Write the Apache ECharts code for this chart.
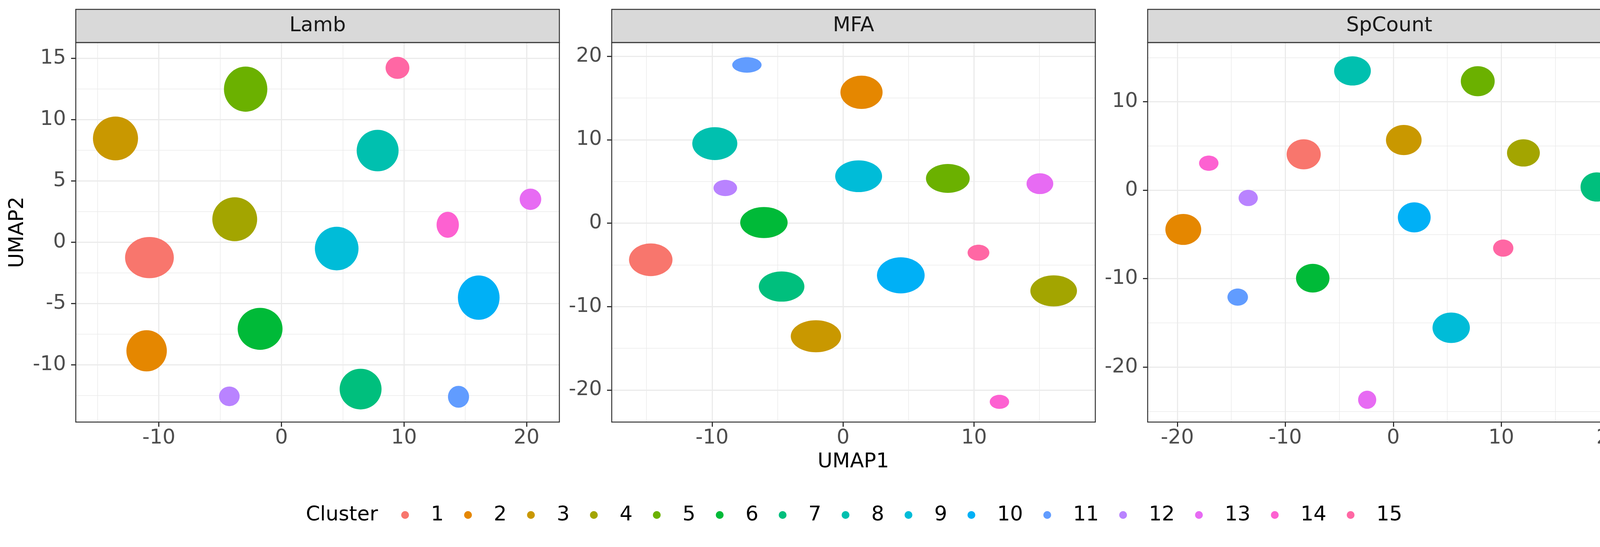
<!DOCTYPE html>
<html><head><meta charset="utf-8">
<script src="https://cdn.jsdelivr.net/npm/echarts@6/dist/echarts.min.js"></script>
<style>html,body{margin:0;padding:0;background:#fff}#c{width:4200px;height:1401px}</style>
</head><body><div id="c"></div>
<script>
// ---- data ----
const clusters = ['1','2','3','4','5','6','7','8','9','10','11','12','13','14','15'];
const clusterColors = ['#F8766D','#E58700','#C99800','#A3A500','#6BB100','#00BA38','#00BF7D','#00C0AF','#00BCD8','#00B0F6','#619CFF','#B983FF','#E76BF3','#FD61D1','#FF67A4'];
const panels = ['Lamb','MFA','SpCount'];

// per cluster 1..15: centre UMAP1, centre UMAP2, visible half-width, visible half-height
const lambX  = [-10.77,-11.00,-13.54,-3.81,-2.92,-1.74, 6.46, 7.85, 4.51,16.10,14.45,-4.25,20.32,13.57, 9.47];
const lambY  = [ -1.25, -8.85,  8.47, 1.88,12.49,-7.06,-11.97,7.48,-0.51,-4.51,-12.60,-12.56,3.51, 1.43,14.23];
const lambHW = [1.99,1.65,1.84,1.83,1.77,1.83,1.71,1.71,1.78,1.70,0.86,0.84,0.88,0.91,0.97];
const lambHH = [1.68,1.68,1.79,1.79,1.84,1.71,1.66,1.69,1.78,1.81,0.89,0.80,0.87,1.06,0.90];

const mfaX  = [-14.68, 1.41, -2.07,16.08, 8.00,-6.04,-4.69,-9.79, 1.19, 4.41,-7.34,-8.99,15.03, 11.94,10.34];
const mfaY  = [ -4.39,15.68,-13.56,-8.12, 5.36, 0.07,-7.60, 9.53, 5.62,-6.26,18.96, 4.21, 4.73,-21.42,-3.54];
const mfaHW = [1.66,1.61,1.92,1.78,1.67,1.81,1.74,1.72,1.79,1.82,1.12,0.90,1.02,0.74,0.83];
const mfaHH = [1.96,1.99,1.92,1.86,1.73,1.86,1.81,1.97,1.90,2.16,0.93,0.97,1.25,0.84,0.95];

const spX  = [-8.30,-19.45,0.97,12.05, 7.82,-7.46,18.84,-3.78,  5.36, 1.94,-14.41,-13.44, -2.42,-17.09,10.18];
const spY  = [ 4.05, -4.44,5.67, 4.21,12.32,-9.95, 0.36,13.48,-15.56,-3.08,-12.09, -0.88,-23.70,  3.05,-6.55];
const spHW = [1.58,1.66,1.65,1.52,1.57,1.55,1.50,1.70,1.73,1.52,0.95,0.89,0.84,0.90,0.94];
const spHH = [1.70,1.75,1.70,1.54,1.70,1.62,1.65,1.65,1.72,1.70,0.97,0.92,1.02,0.86,0.97];

// axis extents and tick labels
const xMin = [-16.78,-17.66,-22.75];
const xMax = [ 22.68, 19.26, 22.00];
const yMin = [-14.66,-23.84,-26.22];
const yMax = [ 16.29, 21.64, 16.69];
const xTicks = [[-10,0,10,20],[-10,0,10],[-20,-10,0,10,20]];
const yTicks = [[-10,-5,0,5,10,15],[-20,-10,0,10,20],[-20,-10,0,10]];
const xMinor = [[-15,-5,5,15],[-15,-5,5,15],[-15,-5,5,15]];
const yMinor = [[-12.5,-7.5,-2.5,2.5,7.5,12.5],[-15,-5,5,15],[-25,-15,-5,5,15]];

const panelData = [
  [lambX, lambY, lambHW, lambHH],
  [mfaX, mfaY, mfaHW, mfaHH],
  [spX, spY, spHW, spHH]
];

// ---- layout ----
const FONT = 'DejaVu Sans';
const FS = 52;
const gridLeft = [194, 1566, 2938];
const gridW = [1238, 1238, 1237];
const gridTop = 109, gridH = 972;
const stripTop = 24;

const grids = [], xAxes = [], yAxes = [], series = [], graphics = [];

panels.forEach((name, i) => {
  grids.push({left: gridLeft[i], top: gridTop, width: gridW[i], height: gridH, containLabel: false, outerBoundsMode: 'none'});
  const lbl = {fontSize: FS, fontFamily: FONT, color: '#4D4D4D'};
  xAxes.push({type: 'value', gridIndex: i, min: xMin[i], max: xMax[i], position: 'bottom',
    axisLine: {show: false, onZero: false},
    axisTick: {show: true, customValues: xTicks[i], length: 12, lineStyle: {color: '#333333', width: 3}},
    axisLabel: Object.assign({customValues: xTicks[i], margin: 15}, lbl),
    splitLine: {show: true, lineStyle: {color: '#EBEBEB', width: 3}}});
  xAxes.push({type: 'value', gridIndex: i, min: xMin[i], max: xMax[i], position: 'top',
    axisLine: {show: false, onZero: false},
    axisTick: {show: false, customValues: xMinor[i]},
    axisLabel: {show: false},
    splitLine: {show: true, lineStyle: {color: '#EBEBEB', width: 1.5}}});
  yAxes.push({type: 'value', gridIndex: i, min: yMin[i], max: yMax[i], position: 'left',
    axisLine: {show: false, onZero: false},
    axisTick: {show: true, customValues: yTicks[i], length: 12, lineStyle: {color: '#333333', width: 3}},
    axisLabel: Object.assign({customValues: yTicks[i], margin: 25}, lbl),
    splitLine: {show: true, lineStyle: {color: '#EBEBEB', width: 3}}});
  yAxes.push({type: 'value', gridIndex: i, min: yMin[i], max: yMax[i], position: 'right',
    axisLine: {show: false, onZero: false},
    axisTick: {show: false, customValues: yMinor[i]},
    axisLabel: {show: false},
    splitLine: {show: true, lineStyle: {color: '#EBEBEB', width: 1.5}}});

  const [cx, cy, hw, hh] = panelData[i];
  clusters.forEach((c, k) => {
    series.push({
      type: 'custom', name: c, xAxisIndex: 2 * i, yAxisIndex: 2 * i,
      itemStyle: {color: clusterColors[k]},
      encode: {x: 0, y: 1},
      data: [[cx[k], cy[k], hw[k], hh[k]]],
      renderItem: (params, api) => {
        const p = api.coord([api.value(0), api.value(1)]);
        const s = api.size([api.value(2), api.value(3)]);
        return {type: 'ellipse', shape: {cx: p[0], cy: p[1], rx: s[0], ry: s[1]},
                style: {fill: api.visual('color')}};
      },
      silent: true
    });
  });

  // strip
  graphics.push({type: 'rect', z: 100, shape: {x: gridLeft[i], y: stripTop, width: gridW[i], height: gridTop - stripTop},
    style: {fill: '#D9D9D9', stroke: '#333333', lineWidth: 2.5}});
  graphics.push({type: 'text', z: 101, x: gridLeft[i] + gridW[i] / 2, y: (stripTop + gridTop) / 2,
    style: {text: name, fontSize: FS, fontFamily: FONT, fill: '#1A1A1A', align: 'center', verticalAlign: 'middle'}});
  // panel frame
  graphics.push({type: 'rect', z: 100, shape: {x: gridLeft[i], y: gridTop, width: gridW[i], height: gridH},
    style: {fill: 'none', stroke: '#333333', lineWidth: 2.5}});
});

graphics.push({type: 'text', x: 45, y: gridTop + gridH / 2, rotation: Math.PI / 2,
  style: {text: 'UMAP2', fontSize: FS, fontFamily: FONT, fill: '#000', align: 'center', verticalAlign: 'middle'}});
graphics.push({type: 'text', x: (gridLeft[0] + gridLeft[2] + gridW[2]) / 2, y: 1183,
  style: {text: 'UMAP1', fontSize: FS, fontFamily: FONT, fill: '#000', align: 'center', verticalAlign: 'middle'}});
graphics.push({type: 'text', x: 783, y: 1319,
  style: {text: 'Cluster', fontSize: FS, fontFamily: FONT, fill: '#000', align: 'left', verticalAlign: 'middle'}});

const chart = echarts.init(document.getElementById('c'), null, {renderer: 'canvas'});
chart.setOption({
  animation: false,
  backgroundColor: '#ffffff',
  grid: grids,
  xAxis: xAxes,
  yAxis: yAxes,
  legend: {
    data: clusters.map(c => ({name: c, icon: 'circle'})),
    orient: 'horizontal', left: 1027, top: 1293, padding: 0,
    itemWidth: 122, itemHeight: 20, itemGap: 52, selectedMode: false,
    textStyle: {fontSize: FS, fontFamily: FONT, color: '#000', lineHeight: 52}
  },
  graphic: graphics,
  series: series
});
</script></body></html>
